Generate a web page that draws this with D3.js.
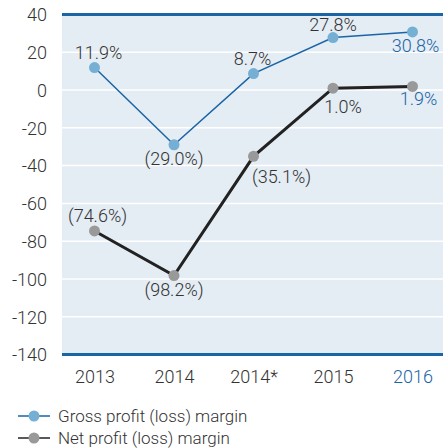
<!DOCTYPE html>
<html>
<head>
<meta charset="utf-8">
<script src="https://cdn.jsdelivr.net/npm/d3@7"></script>
<style>
  body { margin: 0; background: #fff; }
  svg text { font-family: Roboto, "Liberation Sans", Arial, sans-serif; font-weight: 300; }
</style>
</head>
<body>
<svg id="chart" width="443" height="448"></svg>
<script>
const years = ["2013", "2014", "2014*", "2015", "2016"];
const grossMargin = [11.9, -29.0, 8.7, 27.8, 30.8];
const netMargin = [-74.6, -98.2, -35.1, 1.0, 1.9];
const grossLabels = ["11.9%", "(29.0%)", "8.7%", "27.8%", "30.8%"];
const netLabels = ["(74.6%)", "(98.2%)", "(35.1%)", "1.0%", "1.9%"];
const yTicks = [40, 20, 0, -20, -40, -60, -80, -100, -120, -140];

const blue = "#1a65a6";
const lightBlue = "#75afd4";
const grey = "#999999";
const dark = "#222222";
const textColor = "#333333";

const svg = d3.select("#chart");

const plot = { left: 62, right: 443, top: 14.5, bottom: 354.5 };

const x = d3.scalePoint()
    .domain(years)
    .range([94.5, 412.5]);

const y = d3.scaleLinear()
    .domain([-140, 40])
    .range([plot.bottom, plot.top]);

// plot background
svg.append("rect")
    .attr("x", plot.left)
    .attr("y", plot.top)
    .attr("width", plot.right - plot.left)
    .attr("height", plot.bottom - plot.top)
    .attr("fill", "#e4ecf4");

// gridlines
svg.append("g")
    .selectAll("line")
    .data(yTicks.filter(d => d !== 40 && d !== -140))
    .enter()
    .append("line")
    .attr("x1", plot.left)
    .attr("x2", plot.right)
    .attr("y1", d => y(d))
    .attr("y2", d => y(d))
    .attr("stroke", "#fff")
    .attr("stroke-width", 1.5);

// top and bottom rules
[40, -140].forEach(v => {
    svg.append("line")
        .attr("x1", plot.left)
        .attr("x2", plot.right)
        .attr("y1", y(v))
        .attr("y2", y(v))
        .attr("stroke", blue)
        .attr("stroke-width", 3);
});

// y axis labels (plain hyphen minus like the original)
const yAxis = d3.axisLeft(y).tickValues(yTicks).tickFormat(d => String(d)).tickSize(0).tickPadding(0);
const yG = svg.append("g").attr("transform", "translate(47,0)").call(yAxis);
yG.select(".domain").remove();
yG.selectAll("text")
    .attr("fill", textColor)
    .style("font-size", "18px")
    .attr("dy", "0.35em");

// x axis labels
const xAxis = d3.axisBottom(x).tickSize(0).tickPadding(0);
const xG = svg.append("g").attr("transform", "translate(0,370)").call(xAxis);
xG.select(".domain").remove();
xG.selectAll("text")
    .attr("fill", d => d === "2016" ? blue : textColor)
    .style("font-size", "18px")
    .attr("dy", "0.71em");

// series
const line = d3.line().x((d, i) => x(years[i])).y(d => y(d));

svg.append("path")
    .datum(grossMargin)
    .attr("d", line)
    .attr("fill", "none")
    .attr("stroke", blue)
    .attr("stroke-width", 1.5);

svg.append("path")
    .datum(netMargin)
    .attr("d", line)
    .attr("fill", "none")
    .attr("stroke", dark)
    .attr("stroke-width", 3);

svg.append("g")
    .selectAll("circle")
    .data(grossMargin)
    .enter()
    .append("circle")
    .attr("cx", (d, i) => x(years[i]))
    .attr("cy", d => y(d))
    .attr("r", 5.5)
    .attr("fill", lightBlue);

svg.append("g")
    .selectAll("circle")
    .data(netMargin)
    .enter()
    .append("circle")
    .attr("cx", (d, i) => x(years[i]))
    .attr("cy", d => y(d))
    .attr("r", 5.5)
    .attr("fill", grey);

// value labels: offsets relative to the marker
const grossOffsets = [[4, -9], [0, 20], [-1, -9], [0, -7], [3, 20]];
const netOffsets = [[3, -9], [0, 20], [28, 27], [10, 25], [6, 19]];

svg.append("g")
    .selectAll("text")
    .data(grossMargin)
    .enter()
    .append("text")
    .attr("x", (d, i) => x(years[i]) + grossOffsets[i][0])
    .attr("y", (d, i) => y(d) + grossOffsets[i][1])
    .attr("text-anchor", "middle")
    .attr("fill", (d, i) => i === 4 ? blue : textColor)
    .style("font-size", "18px")
    .text((d, i) => grossLabels[i]);

svg.append("g")
    .selectAll("text")
    .data(netMargin)
    .enter()
    .append("text")
    .attr("x", (d, i) => x(years[i]) + netOffsets[i][0])
    .attr("y", (d, i) => y(d) + netOffsets[i][1])
    .attr("text-anchor", "middle")
    .attr("fill", (d, i) => i === 4 ? blue : textColor)
    .style("font-size", "18px")
    .text((d, i) => netLabels[i]);

// legend
const legend = [
    { label: "Gross profit (loss) margin", line: blue, dot: lightBlue, y: 416 },
    { label: "Net profit (loss) margin", line: dark, dot: grey, y: 438 }
];
const lg = svg.append("g").selectAll("g").data(legend).enter().append("g");
lg.append("line")
    .attr("x1", 18).attr("x2", 50)
    .attr("y1", d => d.y).attr("y2", d => d.y)
    .attr("stroke", d => d.line)
    .attr("stroke-width", 1.5);
lg.append("circle")
    .attr("cx", 34).attr("cy", d => d.y)
    .attr("r", 5.5)
    .attr("fill", d => d.dot);
lg.append("text")
    .attr("x", 58).attr("y", d => d.y)
    .attr("dy", "0.35em")
    .attr("fill", textColor)
    .style("font-size", "17px")
    .text(d => d.label);
</script>
</body>
</html>
